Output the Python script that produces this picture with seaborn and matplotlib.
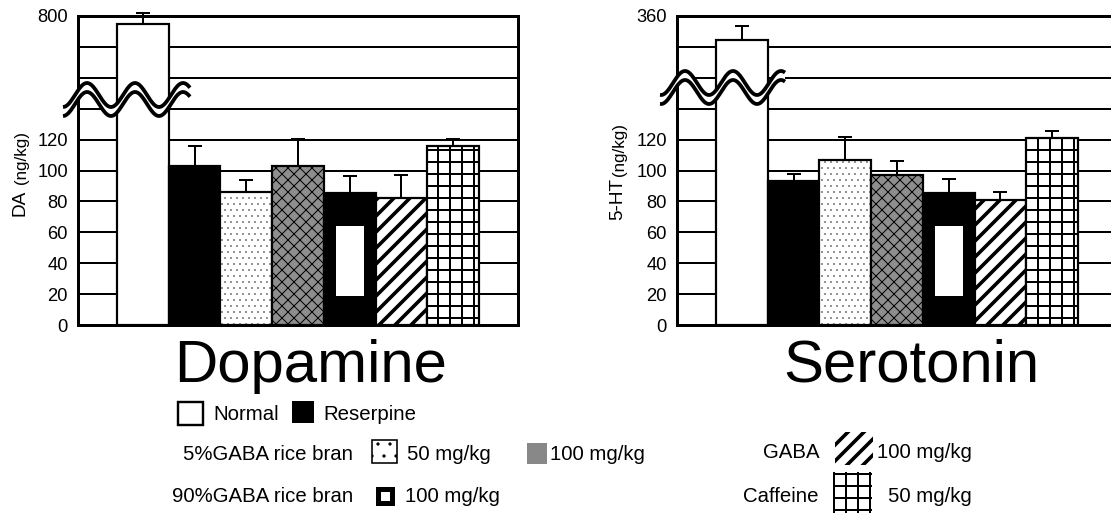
import numpy as np
import pandas as pd
import matplotlib
matplotlib.use("Agg")
import matplotlib.pyplot as plt
import seaborn as sns
from matplotlib.patches import Rectangle, Polygon
from matplotlib.lines import Line2D

# ---------------- data ----------------
groups = ["Normal", "Reserpine", "5%GABA rice bran 50 mg/kg", "5%GABA rice bran 100 mg/kg",
          "90%GABA rice bran 100 mg/kg", "GABA 100 mg/kg", "Caffeine 50 mg/kg"]
da_values = [756, 103, 86, 103, 85.6, 82, 116]
da_errors = [61, 13, 8, 18, 10.6, 15, 9.5]
ht_values = [313.5, 93, 107, 97, 85.6, 81, 124]
ht_errors = [27, 5, 18, 9, 8.7, 5.4, 12]
low_ticks = [0, 20, 40, 60, 80, 100, 120]
da_top = 800
ht_top = 360
titles = ["Dopamine", "Serotonin"]
ylabels = [("DA", "(ng/kg)"), ("5-HT", "(ng/kg)")]

# ---------------- style ----------------
faces = ["white", "black", "white", "#8e8e8e", "black", "white", "white"]
hatches = [None, None, "....", "xxxx", None, "///", "++"]
hatch_lws = [1.0, 1.0, 0.35, 0.5, 1.0, 1.8, 1.0]
hatch_cols = [None, None, (0.45, 0.45, 0.45, 1), None, None, None, None]

sns.set_style("white")
plt.rcParams["font.family"] = ["Liberation Sans", "DejaVu Sans"]
plt.rcParams["axes.edgecolor"] = "black"
plt.rcParams["text.color"] = "black"
plt.rcParams["ytick.color"] = "black"
plt.rcParams["xtick.color"] = "black"
plt.rcParams["hatch.linewidth"] = 1.0

W, H, DPI = 1111, 513, 144
fig = plt.figure(figsize=(W / DPI, H / DPI), dpi=DPI)


def fx(x):
    return x / W


def fy(y):
    return 1 - y / H


def make_scale(top):
    k = 80.0 / (top - 120)

    def fwd(v):
        v = np.asarray(v, dtype=float)
        return np.where(v <= 120, v, 120 + (v - 120) * k)

    def inv(d):
        d = np.asarray(d, dtype=float)
        return np.where(d <= 120, d, 120 + (d - 120) / k)

    return fwd, inv


def set_hlw(p, lw):
    try:
        p.set_hatch_linewidth(lw)
    except Exception:
        pass


def draw_panel(ax, values, errors, top):
    df = pd.DataFrame({"group": groups, "value": values})
    sns.barplot(data=df, x="group", y="value", hue="group",
                palette=dict(zip(groups, faces)), saturation=1, width=1.0,
                edgecolor="black", linewidth=1.1, errorbar=None, legend=False,
                ax=ax, zorder=2)
    for p, h, lw, hc in zip(ax.patches, hatches, hatch_lws, hatch_cols):
        if h:
            p.set_hatch(h)
            set_hlw(p, lw)
            if hc is not None:
                p._hatch_color = hc
    fwd, inv = make_scale(top)
    ax.set_yscale("function", functions=(fwd, inv))
    # inner white panel of the 90%GABA bar pattern
    v90 = values[4]
    ax.bar(4, 0.53 * v90, bottom=0.22 * v90, width=0.54, color="white",
           linewidth=0, zorder=3)
    eb = ax.errorbar(range(len(values)), values,
                     yerr=[np.zeros(len(values)), errors], fmt="none",
                     ecolor="black", elinewidth=1.0, capsize=3.5, capthick=1.0,
                     zorder=4)
    for art in list(eb[1]) + list(eb[2]):
        art.set_clip_on(False)
    ax.set_ylim(0, top)
    ax.set_xlim(-1.255, 7.255)
    ticks = low_ticks + [float(inv(140)), float(inv(160)), float(inv(180)), top]
    labels = [str(t) for t in low_ticks] + ["", "", "", str(top)]
    ax.set_yticks(ticks)
    ax.set_yticklabels(labels)
    ax.yaxis.grid(True, color="black", linewidth=1.0)
    ax.xaxis.grid(False)
    ax.set_axisbelow(True)
    ax.set_xticks([])
    ax.set_xlabel("")
    ax.set_ylabel("")
    ax.tick_params(axis="y", length=0, pad=5, labelsize=9.2, colors="black")
    for s in ax.spines.values():
        s.set_visible(True)
        s.set_color("black")
        s.set_linewidth(1.5)


def draw_break(x0, x1, xpeak, yc, amp=12, period=48, gap=9):
    xs = np.linspace(x0, x1, 300)
    up = yc - amp * np.cos(2 * np.pi * (xs - xpeak) / period)
    lo = up + gap
    pts = np.concatenate([np.column_stack([xs, up]), np.column_stack([xs[::-1], lo[::-1]])])
    fig.add_artist(Polygon(np.column_stack([fx(pts[:, 0]), fy(pts[:, 1])]),
                           closed=True, facecolor="white", edgecolor="none",
                           transform=fig.transFigure, zorder=20))
    for yy in (up, lo):
        fig.add_artist(Line2D(fx(xs), fy(yy), color="black", linewidth=1.9,
                              transform=fig.transFigure, zorder=21,
                              solid_capstyle="butt"))


ax_bottom, ax_top = 325, 16
axL = fig.add_axes([fx(78), fy(ax_bottom), 440 / W, (ax_bottom - ax_top) / H])
axR = fig.add_axes([fx(677), fy(ax_bottom), 440 / W, (ax_bottom - ax_top) / H])
draw_panel(axL, da_values, da_errors, da_top)
draw_panel(axR, ht_values, ht_errors, ht_top)

draw_break(63, 190, 87, 95)
draw_break(660, 785, 685, 83)

# y labels
fig.text(fx(20), fy(203), ylabels[0][0], rotation=90, ha="center", va="center", fontsize=9.5)
fig.text(fx(22), fy(158), ylabels[0][1], rotation=90, ha="center", va="center", fontsize=8.5)
fig.text(fx(618), fy(199), ylabels[1][0], rotation=90, ha="center", va="center", fontsize=9.5)
fig.text(fx(620), fy(150), ylabels[1][1], rotation=90, ha="center", va="center", fontsize=8.5)

# big titles
fig.text(fx(311), fy(382), titles[0], ha="center", va="baseline", fontsize=30)
fig.text(fx(911), fy(382), titles[1], ha="center", va="baseline", fontsize=30)

# legend
LFS = 10.2


def box(x0, y0, x1, y1, **kw):
    r = Rectangle((fx(x0), fy(y1)), fx(x1) - fx(x0), fy(y0) - fy(y1),
                  transform=fig.transFigure, **kw)
    fig.add_artist(r)
    return r


box(178, 402, 203, 425, facecolor="white", edgecolor="black", linewidth=1.2)
fig.text(fx(213), fy(420), "Normal", fontsize=LFS, va="baseline")
box(292, 401, 314, 423, facecolor="black", edgecolor="black", linewidth=0)
fig.text(fx(323), fy(420), "Reserpine", fontsize=LFS, va="baseline")

fig.text(fx(353), fy(460), "5%GABA rice bran", fontsize=LFS, va="baseline", ha="right")
r = box(372, 440, 397, 463, facecolor="white", edgecolor="black", linewidth=0.8, hatch="..")
set_hlw(r, 0.4)
fig.text(fx(407), fy(460), "50 mg/kg", fontsize=LFS, va="baseline")
box(527, 443, 547, 464, facecolor="#888888", edgecolor="none")
fig.text(fx(550), fy(460), "100 mg/kg", fontsize=LFS, va="baseline")

fig.text(fx(353), fy(502), "90%GABA rice bran", fontsize=LFS, va="baseline", ha="right")
box(377.5, 488.5, 392.5, 502.5, facecolor="white", edgecolor="black", linewidth=2.5)
fig.text(fx(405), fy(502), "100 mg/kg", fontsize=LFS, va="baseline")

fig.text(fx(820), fy(458), "GABA", fontsize=LFS, va="baseline", ha="right")
r = box(835, 432, 873, 465, facecolor="white", edgecolor="black", linewidth=0, hatch="///")
set_hlw(r, 1.8)
fig.text(fx(877), fy(458), "100 mg/kg", fontsize=LFS, va="baseline")
fig.text(fx(819), fy(502), "Caffeine", fontsize=LFS, va="baseline", ha="right")
r = box(833, 472, 872, 520, facecolor="white", edgecolor="black", linewidth=0, hatch="++")
set_hlw(r, 1.0)
fig.text(fx(888), fy(502), "50 mg/kg", fontsize=LFS, va="baseline")

fig.savefig("out.png", dpi=DPI)
